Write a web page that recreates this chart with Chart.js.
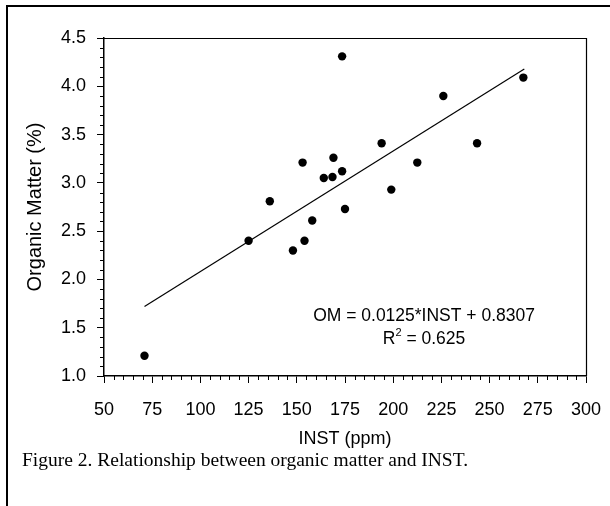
<!DOCTYPE html>
<html>
<head>
<meta charset="utf-8">
<script src="https://cdn.jsdelivr.net/npm/chart.js@4/dist/chart.umd.min.js"></script>
<style>
  html, body { margin: 0; padding: 0; background: #fff; }
  #wrap { position: relative; width: 610px; height: 506px; overflow: hidden; }
  #frame { position: absolute; left: 6px; top: 5px; width: 700px; height: 700px;
           border-left: 2px solid #000; border-top: 2px solid #000; box-sizing: border-box; }
  canvas { position: absolute; left: 0; top: 0; }
  #caption { position: absolute; left: 22px; top: 448px; font-family: "Liberation Serif", "Times New Roman", serif;
             font-size: 19.5px; line-height: 24px; color: #000; white-space: nowrap; }
</style>
</head>
<body>
<div id="wrap">
  <div id="frame"></div>
  <canvas id="c" width="610" height="506"></canvas>
  <div id="caption">Figure 2. Relationship between organic matter and INST.</div>
</div>
<script>
// ---- data ----
const instValues = [71, 125, 136, 148, 153, 154, 158, 164, 168.5, 169, 173.5, 173.5, 175, 194, 199, 212.5, 226, 243.5, 267.5];
const omValues   = [1.21, 2.40, 2.81, 2.30, 3.21, 2.40, 2.61, 3.05, 3.06, 3.26, 3.12, 4.31, 2.73, 3.41, 2.93, 3.21, 3.90, 3.41, 4.09];
const trendX = [71, 268];
const trendY = [1.72, 4.18];
const xTickValues = [50, 75, 100, 125, 150, 175, 200, 225, 250, 275, 300];
const yTickValues = [1.0, 1.5, 2.0, 2.5, 3.0, 3.5, 4.0, 4.5];
const equationText = "OM = 0.0125*INST + 0.8307";
const r2Text = "0.625";
const xTitle = "INST (ppm)";
const yTitle = "Organic Matter (%)";

const FONT = "'Liberation Sans', Arial, Helvetica, sans-serif";

const points = instValues.map((x, i) => ({ x: x, y: omValues[i] }));
const trend = trendX.map((x, i) => ({ x: x, y: trendY[i] }));

const framePlugin = {
  id: 'framePlugin',
  afterDraw(chart) {
    const { ctx, chartArea: a, scales } = chart;
    const xs = scales.x, ys = scales.y;
    ctx.save();
    ctx.strokeStyle = '#000';
    ctx.lineWidth = 1.2;
    ctx.beginPath();
    ctx.moveTo(a.left, a.top + 0.5);
    ctx.lineTo(a.right + 0.5, a.top + 0.5);
    ctx.lineTo(a.right + 0.5, a.bottom);
    ctx.stroke();
    ctx.lineWidth = 1;
    ctx.beginPath();
    for (let v = xs.min; v <= xs.max + 1e-9; v += 5) {
      if (Math.abs(v % 25) < 1e-6) continue;
      const px = Math.round(xs.getPixelForValue(v)) + 0.5;
      ctx.moveTo(px, a.bottom);
      ctx.lineTo(px, a.bottom + 4);
    }
    for (let k = Math.round(ys.min * 10); k <= Math.round(ys.max * 10); k++) {
      if (k % 5 === 0) continue;
      const py = Math.round(ys.getPixelForValue(k / 10)) + 0.5;
      ctx.moveTo(a.left - 4, py);
      ctx.lineTo(a.left, py);
    }
    ctx.stroke();
    ctx.fillStyle = '#000';
    const F = '17.5px ' + FONT, FS = '11px ' + FONT;
    ctx.font = F;
    ctx.textBaseline = 'middle';
    ctx.textAlign = 'center';
    const cx = xs.getPixelForValue(216);
    ctx.fillText(equationText, cx, ys.getPixelForValue(1.62));
    const y2 = ys.getPixelForValue(1.38);
    const wR = ctx.measureText('R').width;
    const rest = ' = ' + r2Text;
    const wRest = ctx.measureText(rest).width;
    ctx.font = FS;
    const wSup = ctx.measureText('2').width;
    const total = wR + wSup + wRest;
    let sx = cx - total / 2;
    ctx.textAlign = 'left';
    ctx.font = F;
    ctx.fillText('R', sx, y2);
    ctx.font = FS;
    ctx.fillText('2', sx + wR, y2 - 6);
    ctx.font = F;
    ctx.fillText(rest, sx + wR + wSup, y2);
    ctx.restore();
  }
};

new Chart(document.getElementById('c'), {
  data: {
    datasets: [
      {
        type: 'line',
        data: trend,
        borderColor: '#000',
        borderWidth: 1.2,
        pointRadius: 0,
        fill: false,
        tension: 0
      },
      {
        type: 'scatter',
        data: points,
        backgroundColor: '#000',
        borderColor: '#000',
        borderWidth: 0,
        pointRadius: 4.2
      }
    ]
  },
  options: {
    responsive: false,
    animation: false,
    devicePixelRatio: 1,
    layout: { padding: { left: 0, top: 38, right: 24, bottom: 0 } },
    plugins: { legend: { display: false }, tooltip: { enabled: false } },
    scales: {
      x: {
        type: 'linear',
        position: 'bottom',
        min: 50, max: 300,
        afterFit(s) { s.height = 130; s.paddingLeft = 0; s.paddingRight = 0; },
        afterBuildTicks(s) { s.ticks = xTickValues.map(v => ({ value: v })); },
        border: { display: true, color: '#000', width: 1.5 },
        grid: { drawOnChartArea: false, drawTicks: true, tickLength: 7, tickColor: '#000', tickWidth: 1 },
        ticks: { color: '#000', font: { family: FONT, size: 18 }, padding: 16, maxRotation: 0, autoSkip: false },
        title: { display: true, text: xTitle, color: '#000', font: { family: FONT, size: 18 }, padding: { top: 0, bottom: 56 } }
      },
      y: {
        type: 'linear',
        position: 'left',
        min: 1, max: 4.5,
        afterFit(s) { s.width = 104; s.paddingTop = 0; s.paddingBottom = 0; },
        afterBuildTicks(s) { s.ticks = yTickValues.map(v => ({ value: v })); },
        border: { display: true, color: '#000', width: 1.5 },
        grid: { drawOnChartArea: false, drawTicks: true, tickLength: 7, tickColor: '#000', tickWidth: 1 },
        ticks: { color: '#000', font: { family: FONT, size: 18 }, padding: 11, autoSkip: false,
                 callback: v => Number(v).toFixed(1) },
        title: { display: true, text: yTitle, color: '#000', font: { family: FONT, size: 20 }, padding: { top: 23, bottom: 0 } }
      }
    }
  },
  plugins: [framePlugin]
});
</script>
</body>
</html>
